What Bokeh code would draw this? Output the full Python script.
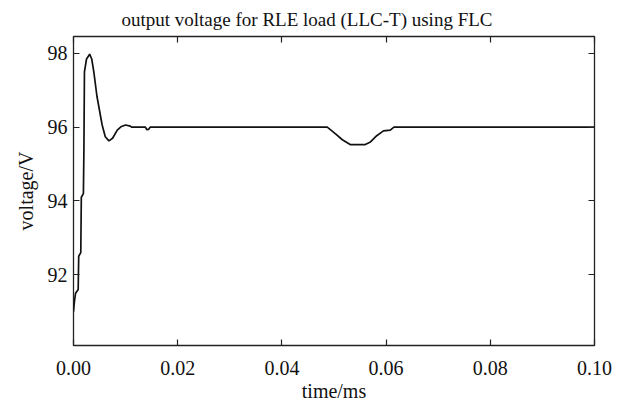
from bokeh.plotting import figure
from bokeh.models import LinearAxis, FixedTicker, NumeralTickFormatter, Range1d
from bokeh.embed import file_html
from bokeh.resources import INLINE

# Output voltage of the RLE load (LLC-T) under fuzzy logic control
time_ms = [0.0000, 0.0002, 0.0004, 0.0009, 0.0010, 0.0014, 0.0015, 0.0019,
           0.0020, 0.0021, 0.0025, 0.0031, 0.0035, 0.0039, 0.0045, 0.0055,
           0.0061, 0.0068, 0.0075, 0.0084, 0.0092, 0.0100, 0.0109, 0.0112,
           0.0138, 0.0141, 0.0144, 0.0147, 0.0487, 0.0503, 0.0516, 0.0531,
           0.0560, 0.0570, 0.0582, 0.0595, 0.0608, 0.0615, 0.1000]
voltage_v = [91.00, 91.30, 91.50, 91.60, 92.50, 92.60, 94.10, 94.20,
             95.40, 97.50, 97.85, 97.98, 97.85, 97.50, 96.84, 96.06,
             95.74, 95.63, 95.70, 95.92, 96.02, 96.06, 96.03, 96.00,
             96.00, 95.93, 95.94, 96.00, 96.00, 95.82, 95.66, 95.53,
             95.53, 95.60, 95.77, 95.90, 95.92, 96.00, 96.00]

x_ticks = [0.00, 0.02, 0.04, 0.06, 0.08, 0.10]
y_ticks = [92, 94, 96, 98]

FONT = "Liberation Serif"

p = figure(width=621, height=405, output_backend="svg", toolbar_location=None,
           x_range=Range1d(0.0, 0.1), y_range=Range1d(90.08, 98.46),
           min_border_left=73, min_border_right=27, min_border_top=35,
           min_border_bottom=60, background_fill_color="white",
           border_fill_color="white")

p.title.text = "output voltage for RLE load (LLC-T) using FLC"
p.title.text_font = FONT
p.title.text_font_size = "19px"
p.title.text_font_style = "normal"
p.title.text_color = "#111111"
p.title.text_line_height = 0.8
p.title.align = "left"
p.title.offset = 48
p.title.standoff = 13

p.outline_line_color = "#222222"
p.outline_line_width = 1.3
p.xgrid.visible = False
p.ygrid.visible = False

p.line(time_ms, voltage_v, line_color="#111111", line_width=1.7)


def style_axis(ax, ticks, show_labels):
    ax.ticker = FixedTicker(ticks=ticks)
    ax.major_tick_in = 6
    ax.major_tick_out = 0
    ax.minor_tick_in = 0
    ax.minor_tick_out = 0
    ax.major_tick_line_color = "#222222"
    ax.major_tick_line_width = 1.2
    ax.axis_line_color = None
    ax.major_label_text_font = FONT
    ax.axis_label_text_font = FONT
    ax.axis_label_text_font_size = "20px"
    ax.axis_label_text_font_style = "normal"
    ax.axis_label_text_color = "#111111"
    if show_labels:
        ax.major_label_text_font_size = "20px"
        ax.major_label_text_color = "#111111"
    else:
        # tick marks only on the mirrored sides of the box
        ax.major_label_text_font_size = "1px"
        ax.major_label_text_color = None
        ax.major_label_standoff = 0
        ax.axis_label_standoff = 0


xa = p.xaxis[0]
style_axis(xa, x_ticks, True)
xa.formatter = NumeralTickFormatter(format="0.00")
xa.axis_label = "time/ms"
xa.major_label_standoff = 15
xa.axis_label_standoff = 2

ya = p.yaxis[0]
style_axis(ya, y_ticks, True)
ya.axis_label = "voltage/V"
ya.major_label_standoff = 6
ya.axis_label_standoff = 8

top_axis = LinearAxis()
style_axis(top_axis, x_ticks, False)
p.add_layout(top_axis, "above")

right_axis = LinearAxis()
style_axis(right_axis, y_ticks, False)
p.add_layout(right_axis, "right")

open("out.html", "w").write(file_html(p, INLINE))
